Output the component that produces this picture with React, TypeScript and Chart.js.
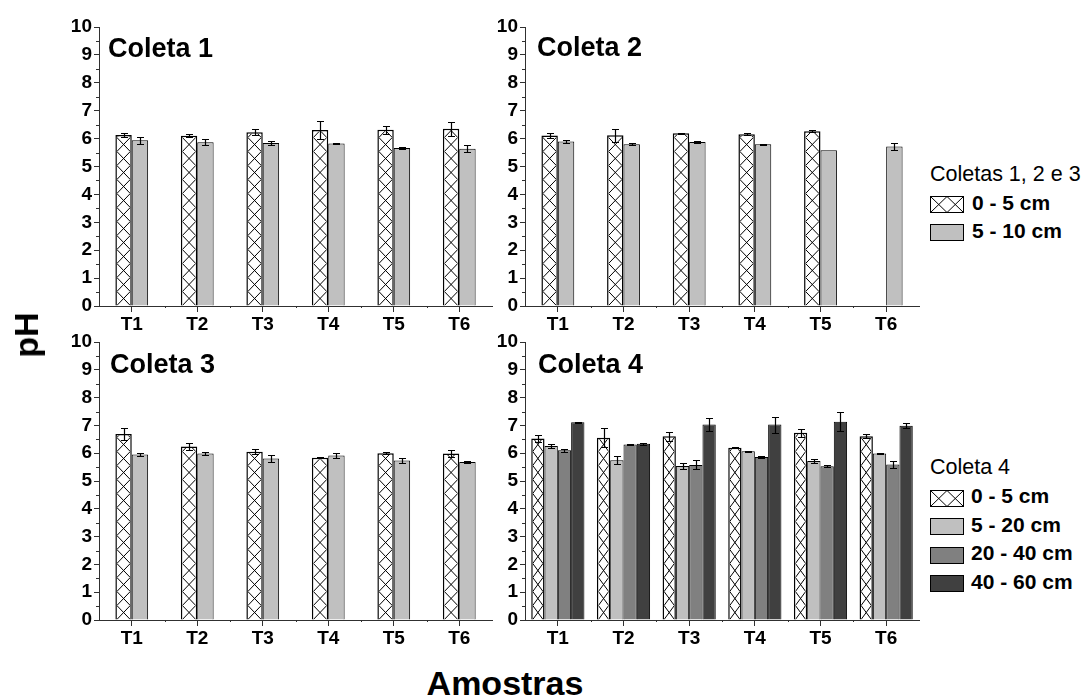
import React, { useEffect, useRef } from "react";
import { Chart, registerables } from "chart.js";

Chart.register(...registerables);

// ---- data -------------------------------------------------------------
const categories = ["T1", "T2", "T3", "T4", "T5", "T6"];
const yTickValues = [0, 1, 2, 3, 4, 5, 6, 7, 8, 9, 10];

// Coleta 1
const c1Depth0to5 = [6.13, 6.10, 6.23, 6.31, 6.32, 6.35];
const c1Depth0to5Err = [0.08, 0.06, 0.11, 0.31, 0.14, 0.25];
const c1Depth5to10 = [5.94, 5.87, 5.84, 5.82, 5.66, 5.64];
const c1Depth5to10Err = [0.13, 0.10, 0.07, 0.03, 0.03, 0.12];

// Coleta 2
const c2Depth0to5 = [6.11, 6.12, 6.19, 6.16, 6.26, null];
const c2Depth0to5Err = [0.08, 0.23, 0.01, 0.03, 0.04, 0];
const c2Depth5to10 = [5.90, 5.80, 5.88, 5.80, 5.58, 5.72];
const c2Depth5to10Err = [0.04, 0.03, 0.05, 0.02, 0, 0.13];

// Coleta 3
const c3Depth0to5 = [6.69, 6.24, 6.05, 5.84, 6.00, 5.99];
const c3Depth0to5Err = [0.22, 0.11, 0.09, 0.01, 0.03, 0.13];
const c3Depth5to10 = [5.95, 5.99, 5.81, 5.92, 5.74, 5.68];
const c3Depth5to10Err = [0.04, 0.04, 0.13, 0.10, 0.10, 0.03];

// Coleta 4
const c4Depth0to5 = [6.53, 6.56, 6.61, 6.20, 6.74, 6.61];
const c4Depth0to5Err = [0.14, 0.33, 0.16, 0.02, 0.14, 0.08];
const c4Depth5to20 = [6.26, 5.75, 5.54, 6.07, 5.72, 5.99];
const c4Depth5to20Err = [0.08, 0.15, 0.12, 0.01, 0.07, 0.02];
const c4Depth20to40 = [6.11, 6.31, 5.58, 5.86, 5.53, 5.59];
const c4Depth20to40Err = [0.05, 0.03, 0.16, 0.04, 0.04, 0.14];
const c4Depth40to60 = [7.11, 6.34, 7.03, 7.03, 7.13, 6.99];
const c4Depth40to60Err = [0.02, 0.03, 0.24, 0.29, 0.34, 0.10];

// ---- styling ----------------------------------------------------------
const FONT = '"Liberation Sans", Arial, Helvetica, sans-serif';
const AXIS = "#303030";
const LIGHT = "#c0c0c0";
const MID = "#808080";
const DARK = "#404040";

type DS = {
  data: (number | null)[];
  errors: number[];
  color: string;
  hatch?: boolean;
};

// Cross-hatch drawn inside each bar, aligned to the bar's own edges
const hatchPlugin = {
  id: "hatchBars",
  afterDatasetsDraw(chart: any) {
    const ctx = chart.ctx;
    chart.data.datasets.forEach((ds: any, i: number) => {
      if (!ds.hatch) return;
      const meta = chart.getDatasetMeta(i);
      meta.data.forEach((bar: any, j: number) => {
        if (ds.data[j] == null) return;
        const { x, y, base, width } = bar.getProps(["x", "y", "base", "width"], true);
        const bw = ds.borderWidth || 0;
        const left = x - width / 2 + bw;
        const right = x + width / 2 - bw;
        const top = y + bw;
        const bottom = base;
        const cell = 14;
        ctx.save();
        ctx.beginPath();
        ctx.rect(left, top, right - left, bottom - top);
        ctx.clip();
        ctx.strokeStyle = "#000";
        ctx.lineWidth = 1;
        ctx.beginPath();
        for (let yy = bottom; yy > top - cell; yy -= cell) {
          ctx.moveTo(left, yy);
          ctx.lineTo(right, yy - cell);
          ctx.moveTo(right, yy);
          ctx.lineTo(left, yy - cell);
        }
        ctx.stroke();
        ctx.restore();
      });
    });
  },
};

// Symmetric error bars with caps
const errorBarPlugin = {
  id: "errorBars",
  afterDatasetsDraw(chart: any) {
    const ctx = chart.ctx;
    const yScale = chart.scales.y;
    chart.data.datasets.forEach((ds: any, i: number) => {
      const errs: number[] = ds.errors;
      if (!errs) return;
      const meta = chart.getDatasetMeta(i);
      meta.data.forEach((bar: any, j: number) => {
        const v = ds.data[j];
        const e = errs[j];
        if (v == null || !e) return;
        const x = Math.round(bar.x) + 0.5;
        const yHi = Math.round(yScale.getPixelForValue(v + e)) + 0.5;
        const yLo = Math.round(yScale.getPixelForValue(v - e)) + 0.5;
        const cap = 3.5;
        ctx.save();
        ctx.strokeStyle = "#000";
        ctx.lineWidth = 1.2;
        ctx.beginPath();
        ctx.moveTo(x, yHi);
        ctx.lineTo(x, yLo);
        ctx.moveTo(x - cap, yHi);
        ctx.lineTo(x + cap, yHi);
        ctx.moveTo(x - cap, yLo);
        ctx.lineTo(x + cap, yLo);
        ctx.stroke();
        ctx.restore();
      });
    });
  },
};

// Minor ticks: half units on y, category boundaries on x
const minorTickPlugin = {
  id: "minorTicks",
  afterDraw(chart: any) {
    const ctx = chart.ctx;
    const y = chart.scales.y;
    const x = chart.scales.x;
    const area = chart.chartArea;
    ctx.save();
    ctx.strokeStyle = AXIS;
    ctx.lineWidth = 1;
    ctx.beginPath();
    for (let v = 0.5; v < 10; v += 1) {
      const py = Math.round(y.getPixelForValue(v)) + 0.5;
      ctx.moveTo(area.left - 3, py);
      ctx.lineTo(area.left, py);
    }
    for (let k = 1; k < categories.length; k++) {
      const px = Math.round((x.getPixelForValue(k - 1) + x.getPixelForValue(k)) / 2) + 0.5;
      ctx.moveTo(px, area.bottom);
      ctx.lineTo(px, area.bottom + 2);
    }
    ctx.stroke();
    ctx.restore();
  },
};

type Area = { l: number; t: number; r: number; b: number };

function Panel({ area, series, groupPct }: { area: Area; series: DS[]; groupPct: number }) {
  const ref = useRef<HTMLCanvasElement>(null);
  const w = area.r - area.l + 70;
  const h = area.b - area.t + 55;

  useEffect(() => {
    const datasets = series.map((s) => ({
      data: s.data,
      errors: s.errors,
      hatch: !!s.hatch,
      backgroundColor: s.hatch ? "#ffffff" : s.color,
      borderColor: "#000",
      borderWidth: s.hatch ? 1.5 : 1,
      borderSkipped: "bottom",
      categoryPercentage: groupPct,
      barPercentage: 1.0,
    }));
    const tickFont = { family: FONT, size: 19, weight: "bold" as const };
    const chart = new Chart(ref.current!, {
      type: "bar",
      data: { labels: categories, datasets: datasets as any },
      options: {
        animation: false,
        responsive: false,
        devicePixelRatio: 1,
        layout: { padding: { left: 0, top: 20, right: 10, bottom: 0 } },
        plugins: { legend: { display: false }, tooltip: { enabled: false }, title: { display: false } },
        scales: {
          x: {
            type: "category",
            offset: true,
            grid: { display: true, drawOnChartArea: false, offset: false, tickLength: 6, color: AXIS },
            border: { display: true, color: AXIS, width: 1 },
            ticks: { font: tickFont, color: "#000", padding: 1, maxRotation: 0, autoSkip: false },
            afterFit: (s: any) => {
              s.height = 35;
            },
          },
          y: {
            min: 0,
            max: 10,
            afterBuildTicks: (s: any) => {
              s.ticks = yTickValues.map((v) => ({ value: v }));
            },
            grid: { display: true, drawOnChartArea: false, tickLength: 5, color: AXIS },
            border: { display: true, color: AXIS, width: 1 },
            ticks: { font: tickFont, color: "#000", padding: 2 },
            afterFit: (s: any) => {
              s.width = 60;
            },
          },
        },
      } as any,
      plugins: [hatchPlugin, errorBarPlugin, minorTickPlugin],
    });
    return () => chart.destroy();
  }, []);

  return (
    <canvas
      ref={ref}
      width={w}
      height={h}
      style={{ position: "absolute", left: area.l - 60, top: area.t - 20, width: w, height: h }}
    />
  );
}

// Text positioned by its left edge (or centre) and baseline
function Text({
  x,
  baseline,
  size,
  bold,
  center,
  children,
}: {
  x: number;
  baseline: number;
  size: number;
  bold?: boolean;
  center?: boolean;
  children: React.ReactNode;
}) {
  return (
    <div
      style={{
        position: "absolute",
        left: x,
        top: baseline - 0.8465 * size,
        fontFamily: FONT,
        fontSize: size,
        lineHeight: `${size}px`,
        fontWeight: bold ? "bold" : "normal",
        whiteSpace: "nowrap",
        color: "#000",
        transform: center ? "translateX(-50%)" : undefined,
      }}
    >
      {children}
    </div>
  );
}

function LegendBox({ x, y, fill, hatch }: { x: number; y: number; fill: string; hatch?: boolean }) {
  return (
    <svg width={35} height={18} style={{ position: "absolute", left: x, top: y }}>
      <rect x={0.5} y={0.5} width={33} height={16} fill={fill} stroke="#000" strokeWidth={1} />
      {hatch && (
        <g stroke="#000" strokeWidth={1}>
          <line x1={0.5} y1={0.5} x2={17} y2={16.5} />
          <line x1={17} y1={0.5} x2={0.5} y2={16.5} />
          <line x1={17} y1={0.5} x2={33.5} y2={16.5} />
          <line x1={33.5} y1={0.5} x2={17} y2={16.5} />
        </g>
      )}
    </svg>
  );
}

const panelTopLeft: Area = { l: 99, t: 27, r: 492, b: 306 };
const panelTopRight: Area = { l: 525, t: 27, r: 919, b: 306 };
const panelBottomLeft: Area = { l: 99, t: 342, r: 492, b: 620 };
const panelBottomRight: Area = { l: 525, t: 342, r: 919, b: 620 };

export default function App() {
  return (
    <div
      style={{
        position: "absolute",
        left: 0,
        top: 0,
        width: 1088,
        height: 700,
        background: "#fff",
        overflow: "hidden",
      }}
    >
      <Panel
        area={panelTopLeft}
        groupPct={0.5}
        series={[
          { data: c1Depth0to5, errors: c1Depth0to5Err, color: "#fff", hatch: true },
          { data: c1Depth5to10, errors: c1Depth5to10Err, color: LIGHT },
        ]}
      />
      <Panel
        area={panelTopRight}
        groupPct={0.5}
        series={[
          { data: c2Depth0to5, errors: c2Depth0to5Err, color: "#fff", hatch: true },
          { data: c2Depth5to10, errors: c2Depth5to10Err, color: LIGHT },
        ]}
      />
      <Panel
        area={panelBottomLeft}
        groupPct={0.5}
        series={[
          { data: c3Depth0to5, errors: c3Depth0to5Err, color: "#fff", hatch: true },
          { data: c3Depth5to10, errors: c3Depth5to10Err, color: LIGHT },
        ]}
      />
      <Panel
        area={panelBottomRight}
        groupPct={0.81}
        series={[
          { data: c4Depth0to5, errors: c4Depth0to5Err, color: "#fff", hatch: true },
          { data: c4Depth5to20, errors: c4Depth5to20Err, color: LIGHT },
          { data: c4Depth20to40, errors: c4Depth20to40Err, color: MID },
          { data: c4Depth40to60, errors: c4Depth40to60Err, color: DARK },
        ]}
      />

      {/* panel titles */}
      <Text x={108} baseline={58} size={27} bold>Coleta 1</Text>
      <Text x={537} baseline={57} size={27} bold>Coleta 2</Text>
      <Text x={110} baseline={374} size={27} bold>Coleta 3</Text>
      <Text x={538} baseline={374} size={27} bold>Coleta 4</Text>

      {/* legend: Coletas 1, 2 e 3 */}
      <Text x={930} baseline={182} size={21.5}>Coletas 1, 2 e 3</Text>
      <LegendBox x={930} y={196} fill="#fff" hatch />
      <Text x={972} baseline={210} size={21} bold>0 - 5 cm</Text>
      <LegendBox x={930} y={224} fill={LIGHT} />
      <Text x={972} baseline={238} size={21} bold>5 - 10 cm</Text>

      {/* legend: Coleta 4 */}
      <Text x={930} baseline={475} size={21.5}>Coleta 4</Text>
      <LegendBox x={930} y={490} fill="#fff" hatch />
      <Text x={971} baseline={503} size={21} bold>0 - 5 cm</Text>
      <LegendBox x={930} y={518} fill={LIGHT} />
      <Text x={971} baseline={532} size={21} bold>5 - 20 cm</Text>
      <LegendBox x={930} y={547} fill={MID} />
      <Text x={971} baseline={560} size={21} bold>20 - 40 cm</Text>
      <LegendBox x={930} y={575} fill={DARK} />
      <Text x={971} baseline={589} size={21} bold>40 - 60 cm</Text>

      {/* axis titles */}
      <div
        style={{
          position: "absolute",
          left: 26,
          top: 335,
          fontFamily: FONT,
          fontSize: 34,
          lineHeight: "34px",
          fontWeight: "bold",
          whiteSpace: "nowrap",
          transform: "translate(-50%, -50%) rotate(-90deg)",
        }}
      >
        pH
      </div>
      <Text x={505} baseline={695} size={34} bold center>Amostras</Text>
    </div>
  );
}
